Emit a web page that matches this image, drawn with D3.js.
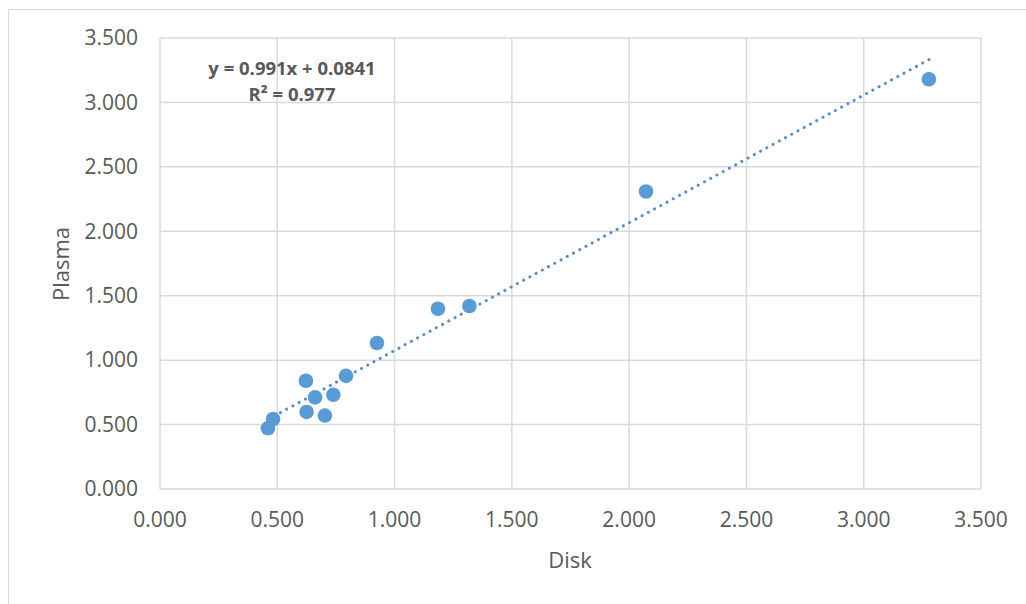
<!DOCTYPE html>
<html>
<head>
<meta charset="utf-8">
<style>
body { margin: 0; background: #fff; }
svg { font-family: "Open Sans", sans-serif; }
.grid line { stroke: #d9d9d9; stroke-width: 1.5px; }
.tick-label { fill: #595959; font-size: 21px; }
.axis-title { fill: #595959; font-size: 22px; }
.trend { fill: none; stroke: #5b8fc2; stroke-width: 3px; stroke-linecap: round; stroke-dasharray: 0.1,7; }
.dot { fill: #5b9bd5; }
.eq { fill: #595959; font-size: 18.5px; font-weight: bold; }
</style>
</head>
<body>
<svg width="1026" height="604"></svg>
<script src="https://cdn.jsdelivr.net/npm/d3@7"></script>
<script>
// disk vs plasma values
var disk   = [0.460, 0.482, 0.622, 0.625, 0.661, 0.703, 0.739, 0.793, 0.925, 1.185, 1.319, 2.072, 3.278];
var plasma = [0.471, 0.543, 0.840, 0.598, 0.711, 0.570, 0.731, 0.878, 1.133, 1.399, 1.420, 2.309, 3.180];
var ticks = [0, 0.5, 1, 1.5, 2, 2.5, 3, 3.5];
var slope = 0.991, intercept = 0.0841;
var eqText = "y = 0.991x + 0.0841";
var r2Text = "R² = 0.977";

var svg = d3.select("svg");
var margin = {top: 38, right: 45, bottom: 115, left: 160};
var width = 1026 - margin.left - margin.right,
    height = 604 - margin.top - margin.bottom;

// outer chart frame (only left/top visible)
svg.append("rect")
  .attr("x", 8.5).attr("y", 9.5)
  .attr("width", 1040).attr("height", 620)
  .attr("fill", "none").attr("stroke", "#d9d9d9");

var x = d3.scaleLinear().domain([0, 3.5]).range([0, width]);
var y = d3.scaleLinear().domain([0, 3.5]).range([height, 0]);

var g = svg.append("g").attr("transform", "translate(" + margin.left + "," + margin.top + ")");

var grid = g.append("g").attr("class", "grid");
grid.selectAll(".h").data(ticks).enter().append("line")
  .attr("x1", 0).attr("x2", width)
  .attr("y1", function(d) { return y(d); }).attr("y2", function(d) { return y(d); });
grid.selectAll(".v").data(ticks).enter().append("line")
  .attr("y1", 0).attr("y2", height)
  .attr("x1", function(d) { return x(d); }).attr("x2", function(d) { return x(d); });

var fmt = d3.format(".3f");
g.selectAll(".ylab").data(ticks).enter().append("text")
  .attr("class", "tick-label")
  .attr("x", -22).attr("y", function(d) { return y(d); })
  .attr("dy", "0.35em").attr("text-anchor", "end")
  .text(fmt);
g.selectAll(".xlab").data(ticks).enter().append("text")
  .attr("class", "tick-label")
  .attr("x", function(d) { return x(d); }).attr("y", height + 38)
  .attr("text-anchor", "middle")
  .text(fmt);

// trendline over the data range
var xr = d3.extent(disk);
g.append("line").attr("class", "trend")
  .attr("x1", x(xr[0])).attr("y1", y(slope * xr[0] + intercept))
  .attr("x2", x(xr[1])).attr("y2", y(slope * xr[1] + intercept));

g.selectAll(".dot").data(disk).enter().append("circle")
  .attr("class", "dot")
  .attr("cx", function(d) { return x(d); })
  .attr("cy", function(d, i) { return y(plasma[i]); })
  .attr("r", 7.3);

g.append("text").attr("class", "eq")
  .attr("x", 132).attr("y", 37).attr("text-anchor", "middle").text(eqText);
g.append("text").attr("class", "eq")
  .attr("x", 132).attr("y", 63).attr("text-anchor", "middle").text(r2Text);

svg.append("text").attr("class", "axis-title")
  .attr("x", 570).attr("y", 568).attr("text-anchor", "middle").text("Disk");
svg.append("text").attr("class", "axis-title")
  .attr("transform", "translate(69,264) rotate(-90)")
  .attr("text-anchor", "middle").text("Plasma");
</script>
</body>
</html>
